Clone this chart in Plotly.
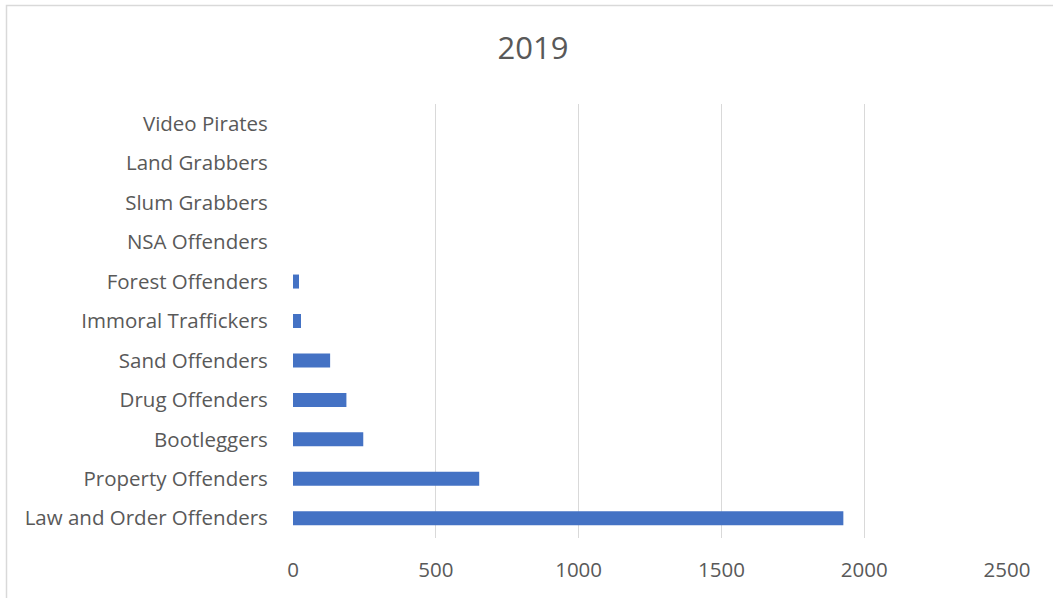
import plotly.graph_objects as go

# Offender categories, bottom to top as drawn
categories = [
    "Law and Order Offenders",
    "Property Offenders",
    "Bootleggers",
    "Drug Offenders",
    "Sand Offenders",
    "Immoral Traffickers",
    "Forest Offenders",
    "NSA Offenders",
    "Slum Grabbers",
    "Land Grabbers",
    "Video Pirates",
]
counts_2019 = [1927, 652, 246, 187, 130, 28, 21, 0, 0, 0, 0]
x_ticks = [0, 500, 1000, 1500, 2000, 2500]

W, H = 1053, 598
ML, MR, MT, MB = 293, 46, 104, 60

fig = go.Figure(
    go.Bar(
        x=counts_2019,
        y=categories,
        orientation="h",
        marker=dict(color="#4472C4", line=dict(width=0)),
    )
)

# Outer chart frame (extends past the right and bottom edges)
pw, ph = W - ML - MR, H - MT - MB
fig.add_shape(
    type="rect", xref="paper", yref="paper",
    x0=(6.5 - ML) / pw, x1=(W + 20 - ML) / pw,
    y0=-(MB + 20) / ph, y1=1 + (MT - 5.5) / ph,
    line=dict(color="#d9d9d9", width=1.5), fillcolor="rgba(0,0,0,0)",
    layer="below",
)

fig.update_layout(
    width=W, height=H,
    margin=dict(l=ML, r=MR, t=MT, b=MB),
    paper_bgcolor="white", plot_bgcolor="white",
    font=dict(family="Open Sans", color="#595959"),
    title=dict(text="2019", x=533 / W, xanchor="center", y=1 - 48 / H,
               yanchor="middle", font=dict(size=31, color="#595959")),
    bargap=0.645,
    showlegend=False,
    xaxis=dict(
        range=[0, 2500], tickvals=x_ticks, ticktext=[str(v) for v in x_ticks],
        showgrid=True, gridcolor="#d9d9d9", gridwidth=1.3,
        zeroline=False, showline=False,
        tickfont=dict(size=20.5, color="#595959"),
        ticks="outside", ticklen=13, tickcolor="rgba(0,0,0,0)",
    ),
    yaxis=dict(
        type="category", categoryorder="array", categoryarray=categories,
        showgrid=False, zeroline=False, showline=False,
        tickfont=dict(size=20.5, color="#595959"),
        ticks="outside", ticklen=20, tickcolor="rgba(0,0,0,0)",
    ),
)

fig.write_html("out.html")
